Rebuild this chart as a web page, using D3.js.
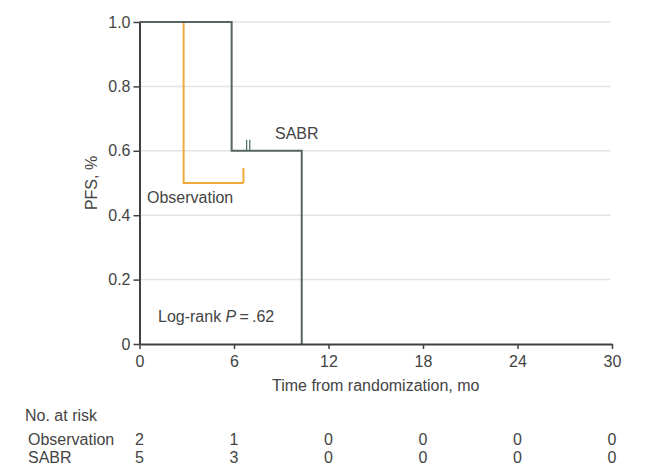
<!DOCTYPE html>
<html>
<head>
<meta charset="utf-8">
<script src="https://cdn.jsdelivr.net/npm/d3@7"></script>
<style>
  html, body { margin: 0; padding: 0; background: #fff; }
  svg { display: block; }
  text { font-family: "Liberation Sans", Arial, sans-serif; fill: #444; }
</style>
</head>
<body>
<svg id="chart" width="646" height="476"></svg>
<script>
// Time axis (months) and survival axis ticks
const monthTicks = [0, 6, 12, 18, 24, 30];
const pfsTicks = [0, 0.2, 0.4, 0.6, 0.8, 1.0];
const gridValues = [0.2, 0.4, 0.6, 0.8, 1.0];

// Kaplan-Meier step points: [time in months, PFS after that time]
const observationSteps = [[0, 1.0], [2.8, 0.5]];
const observationEnd = 6.6;          // last follow-up (censored)
const observationCensored = [6.6];

const sabrSteps = [[0, 1.0], [5.85, 0.6], [10.3, 0.0]];
const sabrEnd = 10.3;
const sabrCensored = [6.8, 7.0];

// Number at risk at each month tick
const riskGroups = ["Observation", "SABR"];
const observationAtRisk = [2, 1, 0, 0, 0, 0];
const sabrAtRisk = [5, 3, 0, 0, 0, 0];

const svg = d3.select("#chart");

const x = d3.scaleLinear().domain([0, 30]).range([139.5, 612]);
const y = d3.scaleLinear().domain([0, 1]).range([344, 22]);

// Horizontal grid lines
svg.append("g")
  .selectAll("line")
  .data(gridValues)
  .join("line")
  .attr("x1", x(0)).attr("x2", x(29.9))
  .attr("y1", d => y(d)).attr("y2", d => y(d))
  .attr("stroke", "#e3e3e3")
  .attr("stroke-width", 1.5);

// Build a step path from KM points, extended to the end of follow-up
function stepPath(steps, end) {
  const pts = [];
  steps.forEach((s, i) => {
    if (i > 0) pts.push([s[0], steps[i - 1][1]]);
    pts.push(s);
  });
  const last = steps[steps.length - 1];
  if (end > last[0]) pts.push([end, last[1]]);
  return d3.line().x(d => x(d[0])).y(d => y(d[1]))(pts);
}

function survivalAt(steps, t) {
  let s = steps[0][1];
  steps.forEach(p => { if (p[0] <= t) s = p[1]; });
  return s;
}

// Observation curve (drawn first, underneath)
svg.append("path")
  .attr("d", stepPath(observationSteps, observationEnd))
  .attr("fill", "none")
  .attr("stroke", "#f2a93b")
  .attr("stroke-width", 2);

svg.append("g")
  .selectAll("line")
  .data(observationCensored)
  .join("line")
  .attr("x1", d => x(d)).attr("x2", d => x(d))
  .attr("y1", d => y(survivalAt(observationSteps, d)))
  .attr("y2", d => y(survivalAt(observationSteps, d)) - 15)
  .attr("stroke", "#f2a93b")
  .attr("stroke-width", 2);

// SABR curve
svg.append("path")
  .attr("d", stepPath(sabrSteps, sabrEnd))
  .attr("fill", "none")
  .attr("stroke", "#566462")
  .attr("stroke-width", 2);

svg.append("g")
  .selectAll("line")
  .data(sabrCensored)
  .join("line")
  .attr("x1", d => x(d)).attr("x2", d => x(d))
  .attr("y1", d => y(survivalAt(sabrSteps, d)))
  .attr("y2", d => y(survivalAt(sabrSteps, d)) - 11)
  .attr("stroke", "#557070")
  .attr("stroke-width", 1.3);

// Axes
const yAxis = svg.append("g")
  .attr("transform", `translate(${x(0)},0)`)
  .call(d3.axisLeft(y)
    .tickValues(pfsTicks)
    .tickFormat(d => d === 0 ? "0" : d3.format(".1f")(d))
    .tickSize(6).tickSizeOuter(0).tickPadding(3));

const xAxis = svg.append("g")
  .attr("transform", `translate(0,${y(0)})`)
  .call(d3.axisBottom(x)
    .tickValues(monthTicks)
    .tickFormat(d3.format("d"))
    .tickSize(5).tickSizeOuter(0).tickPadding(7));

[yAxis, xAxis].forEach(g => {
  g.selectAll("path.domain").attr("stroke", "#404040").attr("stroke-width", 2);
  g.selectAll(".tick line").attr("stroke", "#404040").attr("stroke-width", 1.5);
  g.selectAll(".tick text")
    .attr("font-size", 16)
    .attr("font-family", "Liberation Sans, Arial, sans-serif")
    .attr("fill", "#444");
});

// Axis titles
svg.append("text")
  .attr("transform", `translate(97,${(y(0) + y(1)) / 2}) rotate(-90)`)
  .attr("text-anchor", "middle")
  .attr("font-size", 16)
  .text("PFS, %");

svg.append("text")
  .attr("x", (x(0) + x(30)) / 2)
  .attr("y", 391)
  .attr("text-anchor", "middle")
  .attr("font-size", 16)
  .text("Time from randomization, mo");

// In-plot annotations
svg.append("text").attr("x", 275).attr("y", 139).attr("font-size", 16).text("SABR");
svg.append("text").attr("x", 147).attr("y", 203).attr("font-size", 16).text("Observation");

const lr = svg.append("text").attr("x", 158).attr("y", 322).attr("font-size", 16);
lr.append("tspan").text("Log-rank ");
lr.append("tspan").attr("font-style", "italic").text("P");
lr.append("tspan").text("\u2009=\u2009.62");

// Number-at-risk table
svg.append("text").attr("x", 25).attr("y", 421).attr("font-size", 16).text("No. at risk");

const riskRows = [observationAtRisk, sabrAtRisk];
const rowY = [445, 463];
riskRows.forEach((row, i) => {
  svg.append("text").attr("x", 28).attr("y", rowY[i]).attr("font-size", 16).text(riskGroups[i]);
  svg.append("g")
    .selectAll("text")
    .data(row)
    .join("text")
    .attr("x", (d, j) => x(monthTicks[j]))
    .attr("y", rowY[i])
    .attr("text-anchor", "middle")
    .attr("font-size", 16)
    .text(d => d);
});
</script>
</body>
</html>
